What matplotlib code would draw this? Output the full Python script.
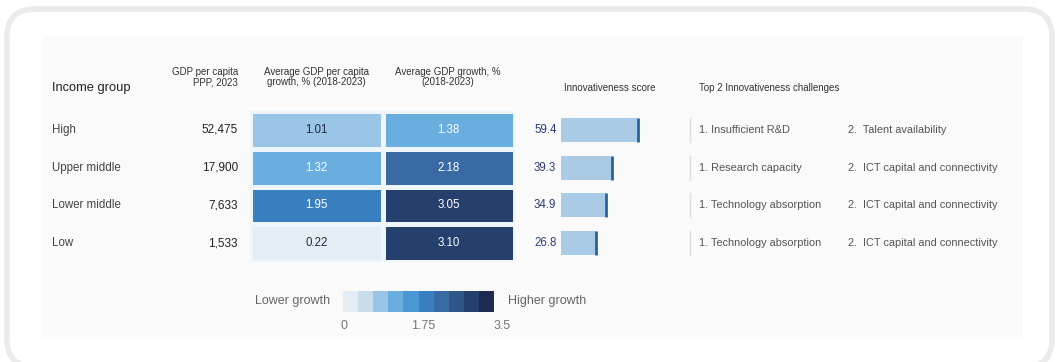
import numpy as np
import matplotlib.pyplot as plt
from matplotlib.colors import ListedColormap, BoundaryNorm
from matplotlib.patches import FancyBboxPatch, Rectangle

plt.rcParams['font.family'] = ['Liberation Sans', 'DejaVu Sans']

groups = ["High", "Upper middle", "Lower middle", "Low"]
gdp_pc = ["52,475", "17,900", "7,633", "1,533"]
pc_growth = [1.01, 1.32, 1.95, 0.22]
gdp_growth = [1.38, 2.18, 3.05, 3.10]
innov_score = [59.4, 39.3, 34.9, 26.8]
challenge_1 = ["1. Insufficient R&D", "1. Research capacity",
               "1. Technology absorption", "1. Technology absorption"]
challenge_2 = ["2.  Talent availability", "2.  ICT capital and connectivity",
               "2.  ICT capital and connectivity", "2.  ICT capital and connectivity"]
scale_ticks = [0, 1.75, 3.5]

blues = ["#e4edf4", "#c9dcec", "#99c5e6", "#6aaee0", "#4a97d3",
         "#3a80c0", "#3a6aa3", "#2f5689", "#26406d", "#1e2a4f"]
cmap = ListedColormap(blues)
norm = BoundaryNorm(np.linspace(0, 3.5, 11), cmap.N)

W, H = 1056, 362
fig = plt.figure(figsize=(W / 100, H / 100), dpi=100)
bg = fig.add_axes([0, 0, 1, 1])
bg.set_xlim(0, W)
bg.set_ylim(H, 0)
bg.axis('off')


def px_axes(x0, y0, x1, y1):
    # axes placed by pixel box (top-left origin)
    return fig.add_axes([x0 / W, 1 - y1 / H, (x1 - x0) / W, (y1 - y0) / H])


# card and inner panel
bg.add_patch(FancyBboxPatch((7, 9), 1045, 358, boxstyle="round,pad=0,rounding_size=28",
                            fc="white", ec="#ebebeb", lw=4))
bg.add_patch(Rectangle((42, 36), 981, 301, fc="#fafafa", ec="none"))

row_y = [130, 168, 205, 243]
hdr = dict(fontsize=7, color="#333333", va="center")

# headers
bg.text(52, 88, "Income group", fontsize=9.3, color="#222222", va="center")
bg.text(238, 77, "GDP per capita\nPPP, 2023", ha="right", linespacing=1.1, **hdr)
bg.text(316, 77, "Average GDP per capita\ngrowth, % (2018-2023)", ha="center", linespacing=1.1, **hdr)
bg.text(448, 77, "Average GDP growth, %\n(2018-2023)", ha="center", linespacing=1.1, **hdr)
bg.text(610, 88, "Innovativeness score", ha="center", **hdr)
bg.text(699, 88, "Top 2 Innovativeness challenges", ha="left", **hdr)

for i, y in enumerate(row_y):
    bg.text(52, y, groups[i], fontsize=8.3, color="#444444", va="center")
    bg.text(238, y, gdp_pc[i], fontsize=8.5, color="#222222", va="center", ha="right")
    bg.text(534, y, f"{innov_score[i]:.1f}", fontsize=8.3, color="#2b3b78", va="center")
    bg.plot([690, 690], [y - 12, y + 12], color="#dddddd", lw=1)
    bg.text(699, y, challenge_1[i], fontsize=7.9, color="#555555", va="center")
    bg.text(848, y, challenge_2[i], fontsize=7.9, color="#555555", va="center")

# heatmap of growth columns
heat = px_axes(250, 111, 515, 262)
vals = np.array([pc_growth, gdp_growth]).T
heat.pcolormesh(vals, cmap=cmap, norm=norm, edgecolors="#eef6fc", linewidth=2.5)
heat.set_ylim(len(groups), 0)
heat.axis('off')
for r in range(vals.shape[0]):
    for c in range(vals.shape[1]):
        v = vals[r, c]
        col = "white" if v >= 1.05 else "#1f2a44"
        heat.text(c + 0.5, r + 0.5, f"{v:.2f}", ha="center", va="center",
                  fontsize=8.3, color=col)

# innovativeness bars
bars = px_axes(561, 111, 690, 262)
ypos = np.arange(len(groups))
bars.barh(ypos, innov_score, height=0.64, color="#aacbe6")
bars.vlines(innov_score, ypos - 0.32, ypos + 0.32, color="#2b62a0", lw=2)
bars.set_xlim(0, 100)
bars.set_ylim(len(groups) - 0.5, -0.5)
bars.axis('off')

# colour scale legend
leg = px_axes(343, 291, 494, 312)
leg.pcolormesh(np.linspace(0, 3.5, 11), [0, 1], (np.arange(10) * 0.35 + 0.175)[None, :],
               cmap=cmap, norm=norm)
leg.set_xlim(0, 3.5)
leg.axis('off')
bg.text(330, 301, "Lower growth", fontsize=9, color="#666666", va="center", ha="right")
bg.text(508, 301, "Higher growth", fontsize=9, color="#666666", va="center")
for t in scale_ticks:
    bg.text(344 + t / 3.5 * 158, 326, f"{t:g}", fontsize=9, color="#777777",
            va="center", ha="center")

fig.savefig("out.png", dpi=100)
